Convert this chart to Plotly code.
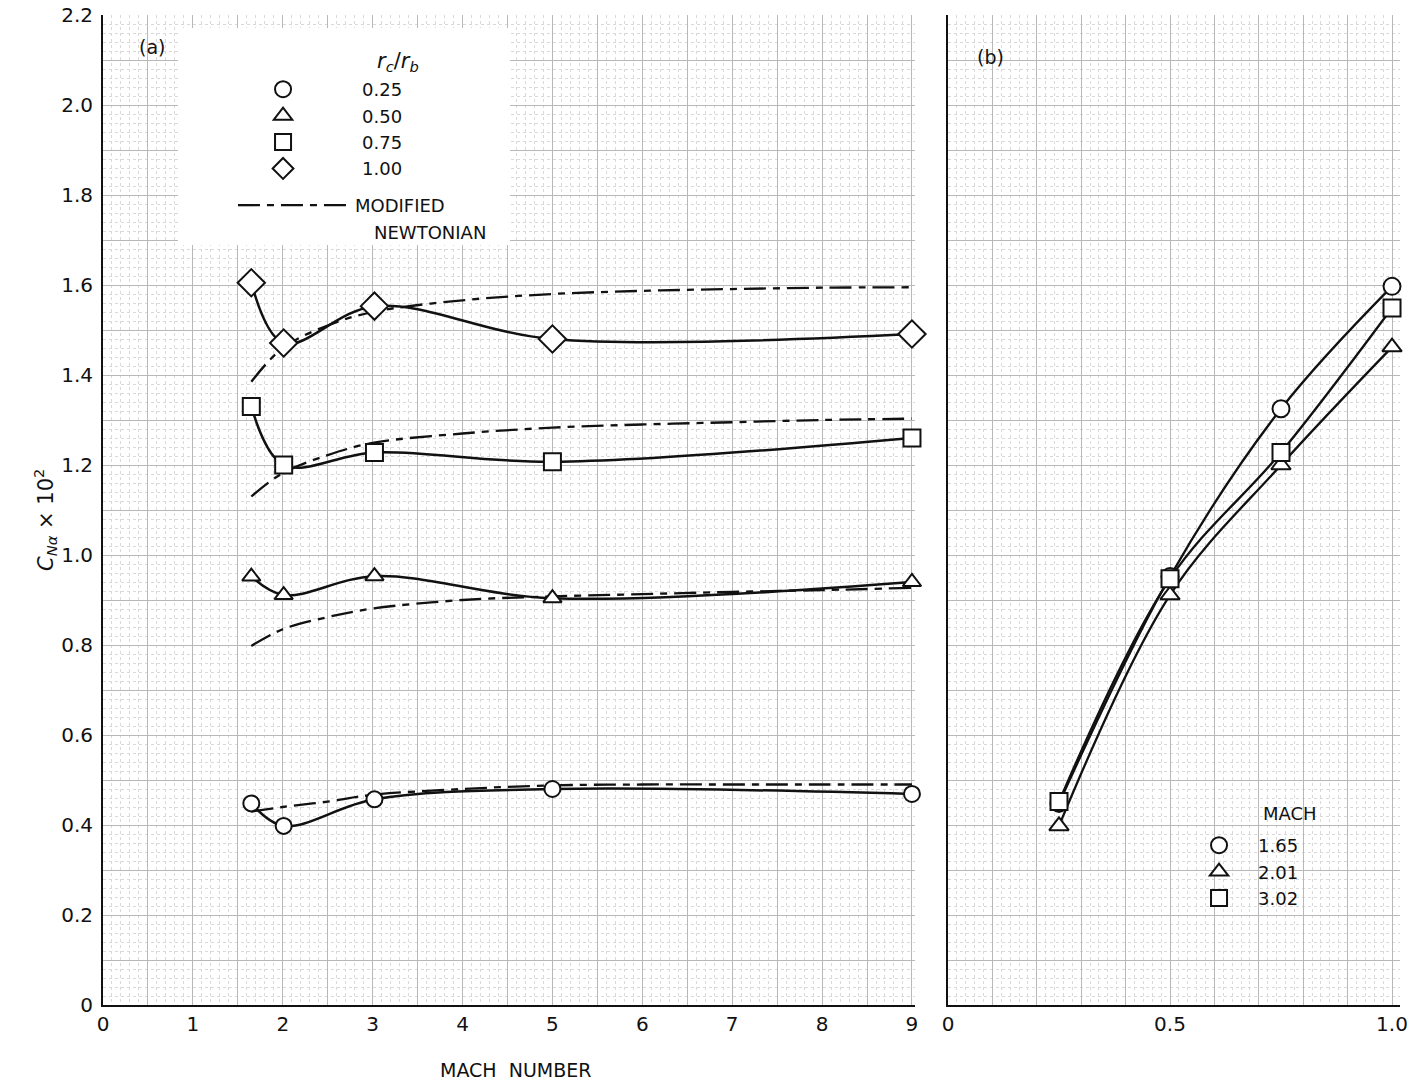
import plotly.graph_objects as go

# ---------------- data ----------------
mach_a = [1.65, 2.01, 3.02, 5.0, 9.0]
cn_r025 = [0.448, 0.398, 0.457, 0.480, 0.469]
cn_r050 = [0.952, 0.911, 0.953, 0.904, 0.940]
cn_r075 = [1.330, 1.200, 1.228, 1.207, 1.260]
cn_r100 = [1.605, 1.471, 1.553, 1.480, 1.491]

newt_mach = [1.65, 2.0, 2.5, 3.0, 4.0, 5.0, 6.0, 7.0, 8.0, 9.0]
newt_r025 = [0.430, 0.440, 0.452, 0.467, 0.480, 0.488, 0.490, 0.490, 0.490, 0.490]
newt_r050 = [0.798, 0.835, 0.862, 0.881, 0.900, 0.908, 0.913, 0.918, 0.922, 0.927]
newt_r075 = [1.130, 1.182, 1.222, 1.249, 1.270, 1.283, 1.290, 1.295, 1.300, 1.303]
newt_r100 = [1.385, 1.460, 1.510, 1.540, 1.566, 1.580, 1.587, 1.591, 1.594, 1.595]

ratio_b = [0.25, 0.50, 0.75, 1.00]
cn_m165 = [0.448, 0.952, 1.325, 1.597]
cn_m201 = [0.398, 0.911, 1.200, 1.462]
cn_m302 = [0.452, 0.947, 1.228, 1.549]

labels_a = ["0.25", "0.50", "0.75", "1.00"]
labels_b = ["1.65", "2.01", "3.02"]
symbols = ["circle", "triangle-up", "square", "diamond"]

y_tick_vals = [0, 0.2, 0.4, 0.6, 0.8, 1.0, 1.2, 1.4, 1.6, 1.8, 2.0, 2.2]
y_tick_labels = ["0", "0.2", "0.4", "0.6", "0.8", "1.0", "1.2", "1.4", "1.6",
                 "1.8", "2.0", "2.2"]
xa_tick_vals = [0, 1, 2, 3, 4, 5, 6, 7, 8, 9]
xa_tick_labels = ["0", "1", "2", "3", "4", "5", "6", "7", "8", "9"]
xb_tick_vals = [0, 0.5, 1.0]
xb_tick_labels = ["0", "0.5", "1.0"]

# graph-paper heavy lines lying between the labelled ticks
y_mid_grid = [round(0.1 + 0.2 * i, 1) for i in range(11)]
xa_mid_grid = [0.5 + i for i in range(9)]
xb_mid_grid = [0.1, 0.2, 0.3, 0.4, 0.6, 0.7, 0.8, 0.9]

FONT = "DejaVu Sans"
BLACK = "#111111"
MAJOR = "#b8b8b8"

fig = go.Figure()

series_a = [cn_r025, cn_r050, cn_r075, cn_r100]
newt_a = [newt_r025, newt_r050, newt_r075, newt_r100]
msize = [16, 16, 17, 21]

# empty traces registering the grid-only overlay axes
fig.add_trace(go.Scatter(x=[], y=[], xaxis="x3", yaxis="y3", showlegend=False, hoverinfo="skip"))
fig.add_trace(go.Scatter(x=[], y=[], xaxis="x4", yaxis="y4", showlegend=False, hoverinfo="skip"))

# panel (a) newtonian dashed curves
for i, nv in enumerate(newt_a):
    fig.add_trace(go.Scatter(
        x=newt_mach, y=nv, mode="lines", xaxis="x", yaxis="y",
        line=dict(color=BLACK, width=2.3, shape="spline", dash="22px,7px,7px,7px"),
        name="MODIFIED", legend="legend3",
        showlegend=(i == 0), hoverinfo="skip"))

# panel (a) solid curves
for yv in series_a:
    fig.add_trace(go.Scatter(
        x=mach_a, y=yv, mode="lines", xaxis="x", yaxis="y",
        line=dict(color=BLACK, width=2.5, shape="spline"),
        showlegend=False, hoverinfo="skip"))

# panel (a) markers
for i, yv in enumerate(series_a):
    fig.add_trace(go.Scatter(
        x=mach_a, y=yv, mode="markers", xaxis="x", yaxis="y", cliponaxis=False,
        marker=dict(symbol=symbols[i], size=msize[i], color="white",
                    line=dict(color=BLACK, width=2)),
        name=labels_a[i], legend="legend", legendrank=i + 1))

# panel (b)
series_b = [cn_m165, cn_m201, cn_m302]
for yv in series_b:
    fig.add_trace(go.Scatter(
        x=ratio_b, y=yv, mode="lines", xaxis="x2", yaxis="y2",
        line=dict(color=BLACK, width=2.3, shape="spline"),
        showlegend=False, hoverinfo="skip"))
for i, yv in enumerate(series_b):
    fig.add_trace(go.Scatter(
        x=ratio_b, y=yv, mode="markers", xaxis="x2", yaxis="y2", cliponaxis=False,
        marker=dict(symbol=symbols[i], size=17, color="white",
                    line=dict(color=BLACK, width=2)),
        name=labels_b[i], legend="legend2", legendrank=i + 1))

minor_grid = dict(showgrid=True, gridcolor="#d9d9d9", griddash="dot", gridwidth=1)
grid_common = dict(
    showgrid=True, gridcolor=MAJOR, gridwidth=1, automargin=False,
    ticks="", zeroline=False, showline=True, linecolor=BLACK, linewidth=2,
    tickfont=dict(family=FONT, size=20, color=BLACK), ticklabeloverflow="allow",
)
overlay_common = dict(
    showgrid=True, gridcolor=MAJOR, gridwidth=1, automargin=False,
    ticks="", zeroline=False, showline=False, showticklabels=False,
    tickmode="array",
)

legend_font = dict(family=FONT, size=18, color=BLACK)

fig.update_layout(
    width=1409, height=1081,
    margin=dict(l=103, r=9, t=15, b=76, autoexpand=False),
    paper_bgcolor="white", plot_bgcolor="white",
    font=dict(family=FONT, color=BLACK),
    xaxis=dict(domain=[0, 0.626], range=[0, 9.033], tickmode="array",
               tickvals=xa_tick_vals, ticktext=xa_tick_labels,
               minor=dict(dtick=0.1, tick0=0, **minor_grid),
               anchor="y", **grid_common),
    yaxis=dict(domain=[0, 1], range=[0, 2.2], tickmode="array",
               tickvals=y_tick_vals, ticktext=y_tick_labels, ticklabelstandoff=4,
               minor=dict(dtick=0.02, tick0=0, **minor_grid),
               anchor="x", **grid_common),
    xaxis2=dict(domain=[0.6515, 1.0], range=[0, 1.018], tickmode="array",
                tickvals=xb_tick_vals, ticktext=xb_tick_labels,
                minor=dict(dtick=0.02, tick0=0, **minor_grid),
                anchor="y2", **grid_common),
    yaxis2=dict(domain=[0, 1], range=[0, 2.2], tickmode="array",
                tickvals=y_tick_vals, showticklabels=False,
                minor=dict(dtick=0.02, tick0=0, **minor_grid),
                anchor="x2", **grid_common),
    xaxis3=dict(overlaying="x", anchor="y3", range=[0, 9.033],
                tickvals=xa_mid_grid, **overlay_common),
    yaxis3=dict(overlaying="y", anchor="x3", range=[0, 2.2],
                tickvals=y_mid_grid, **overlay_common),
    xaxis4=dict(overlaying="x2", anchor="y4", range=[0, 1.018],
                tickvals=xb_mid_grid, **overlay_common),
    yaxis4=dict(overlaying="y2", anchor="x4", range=[0, 2.2],
                tickvals=y_mid_grid, **overlay_common),
    legend=dict(
        x=0.0779, y=0.9434, xanchor="left", yanchor="top",
        bgcolor="rgba(0,0,0,0)", borderwidth=0, itemwidth=148,
        font=legend_font, traceorder="normal", tracegroupgap=0,
    ),
    legend3=dict(
        x=0.1002, y=0.8263, xanchor="left", yanchor="top",
        bgcolor="rgba(0,0,0,0)", borderwidth=0, itemwidth=112,
        font=legend_font,
    ),
    legend2=dict(
        x=0.8304, y=0.1798, xanchor="left", yanchor="top",
        bgcolor="rgba(0,0,0,0)", borderwidth=0, itemwidth=68,
        font=legend_font, traceorder="normal",
    ),
    shapes=[dict(type="rect", xref="paper", yref="paper", layer="above",
                 x0=0.0578, x1=0.3138, y0=0.7677, y1=0.9869,
                 fillcolor="white", line=dict(width=0))],
    annotations=[
        dict(text="<i>r<sub>c</sub></i>/<i>r<sub>b</sub></i>", xref="paper", yref="paper",
             x=0.2274, y=0.9525, xanchor="center", yanchor="middle", showarrow=False,
             font=dict(family=FONT, size=21, color=BLACK)),
        dict(text="NEWTONIAN", xref="paper", yref="paper",
             x=0.2074, y=0.7808, xanchor="left", yanchor="middle", showarrow=False,
             font=legend_font),
        dict(text="MACH", xref="paper", yref="paper",
             x=0.9152, y=0.1939, xanchor="center", yanchor="middle", showarrow=False,
             font=legend_font),
        dict(text="(a)", xref="paper", yref="paper", x=0.0378, y=0.9677,
             xanchor="center", yanchor="middle",
             showarrow=False, font=dict(family=FONT, size=19, color=BLACK)),
        dict(text="(b)", xref="paper", yref="paper", x=0.6839, y=0.9576,
             xanchor="center", yanchor="middle",
             showarrow=False, font=dict(family=FONT, size=19, color=BLACK)),
        dict(text="<i>C<sub>Nα</sub></i> × 10<sup>2</sup>", xref="paper", yref="paper",
             x=-0.0447, y=0.4899, xanchor="center", yanchor="middle",
             textangle=-90, showarrow=False,
             font=dict(family=FONT, size=21, color=BLACK)),
        dict(text="MACH  NUMBER", xref="paper", yref="paper", x=0.3177, y=-0.0657,
             xanchor="center", yanchor="middle",
             showarrow=False, font=dict(family=FONT, size=19, color=BLACK)),
    ],
)

fig.write_html("out.html")
